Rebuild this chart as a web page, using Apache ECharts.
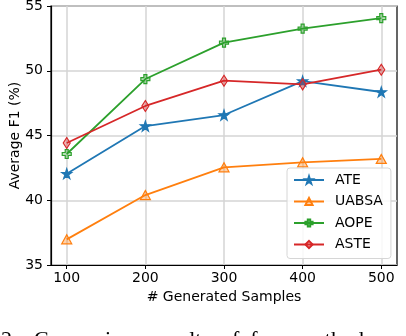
<!DOCTYPE html>
<html>
<head>
<meta charset="utf-8">
<script src="https://cdn.jsdelivr.net/npm/echarts@6/dist/echarts.min.js"></script>
<style>
  html, body { margin: 0; padding: 0; background: #fff; }
  #chart { width: 406px; height: 336px; }
</style>
</head>
<body>
<div id="chart"></div>
<script>
// data
var samples = [100, 200, 300, 400, 500];
var ate = [42.05, 45.73, 46.58, 49.2, 48.36];
var uabsa = [36.98, 40.4, 42.54, 42.93, 43.19];
var aope = [43.57, 49.36, 52.17, 53.25, 54.07];
var aste = [44.42, 47.28, 49.23, 48.95, 50.08];
var yTicks = [35, 40, 45, 50, 55];

var FONT = 'DejaVu Sans';
var STAR = 'path://M0,-1L0.2245,-0.309L0.951,-0.309L0.363,0.118L0.588,0.809L0,0.382L-0.588,0.809L-0.363,0.118L-0.951,-0.309L-0.2245,-0.309Z';
var PLUS = 'path://M1,0H2V1H3V2H2V3H1V2H0V1H1Z';

function pairs(vals) {
  return samples.map(function (s, i) { return [s, vals[i]]; });
}

function makeSeries(name, vals, color, fill, symbol, size) {
  return {
    name: name,
    type: 'line',
    data: pairs(vals),
    symbol: symbol,
    symbolSize: size,
    showAllSymbol: true,
    lineStyle: { color: color, width: 1.8 },
    itemStyle: { color: fill, borderColor: color, borderWidth: 1.2 },
    emphasis: { disabled: true },
    z: 3
  };
}

var chart = echarts.init(document.getElementById('chart'));
chart.setOption({
  animation: false,
  textStyle: { fontFamily: FONT },
  grid: {
    left: 51, right: 9, top: 6, bottom: 71,
    outerBoundsMode: 'none',
    show: true, borderColor: '#000', borderWidth: 1.2, backgroundColor: 'transparent'
  },
  legend: {
    orient: 'vertical',
    left: 287, top: 168,
    padding: [5, 8, 7, 6],
    itemWidth: 30, itemHeight: 9, itemGap: 7.5,
    textStyle: { fontFamily: FONT, fontSize: 14, color: '#000', padding: [0, 0, 0, 6], lineHeight: 14 },
    backgroundColor: 'rgba(255,255,255,0.85)',
    borderColor: '#d6d6d6', borderWidth: 1, borderRadius: 3,
    data: ['ATE', 'UABSA', 'AOPE', 'ASTE']
  },
  xAxis: {
    type: 'value',
    min: 80, max: 520,
    name: '# Generated Samples',
    nameLocation: 'middle',
    nameGap: 25,
    nameMoveOverlap: false,
    nameTextStyle: { fontFamily: FONT, fontSize: 14, color: '#000' },
    axisLine: { show: true, onZero: false, lineStyle: { color: '#000', width: 1.2 } },
    axisTick: { show: true, length: 4, lineStyle: { color: '#000' }, customValues: samples },
    axisLabel: { fontFamily: FONT, fontSize: 14, color: '#000', margin: 6, customValues: samples },
    splitLine: { show: true, lineStyle: { color: '#d4d4d4', width: 1.5 } }
  },
  yAxis: {
    type: 'value',
    min: yTicks[0], max: yTicks[yTicks.length - 1], interval: 5,
    name: 'Average F1 (%)',
    nameLocation: 'middle',
    nameGap: 29,
    nameMoveOverlap: false,
    nameTextStyle: { fontFamily: FONT, fontSize: 14, color: '#000' },
    axisLine: { show: true, lineStyle: { color: '#000', width: 1.2 } },
    axisTick: { show: true, length: 4, lineStyle: { color: '#000' } },
    axisLabel: { fontFamily: FONT, fontSize: 14, color: '#000', margin: 8 },
    splitLine: { show: true, lineStyle: { color: '#d4d4d4', width: 1.5 } }
  },
  // caption of the source figure, cut off by the crop
  graphic: [{
    type: 'text',
    x: 1, y: 329,
    style: { text: '2:', font: '22px "Liberation Serif"', fill: '#000', verticalAlign: 'top' }
  }, {
    type: 'text',
    x: 34, y: 329,
    style: { text: 'Comparison  results  of  four  methods  and', font: '22px "Liberation Serif"', fill: '#000', verticalAlign: 'top' }
  }],
  series: [
    makeSeries('ATE', ate, '#1f77b4', '#1f77b4', STAR, 10),
    makeSeries('UABSA', uabsa, '#ff7f0e', 'rgba(255,127,14,0.35)', 'triangle', [10, 9]),
    makeSeries('AOPE', aope, '#2ca02c', 'rgba(44,160,44,0.35)', PLUS, 9),
    makeSeries('ASTE', aste, '#d62728', 'rgba(214,39,40,0.35)', 'diamond', [7, 11])
  ]
});
</script>
</body>
</html>
